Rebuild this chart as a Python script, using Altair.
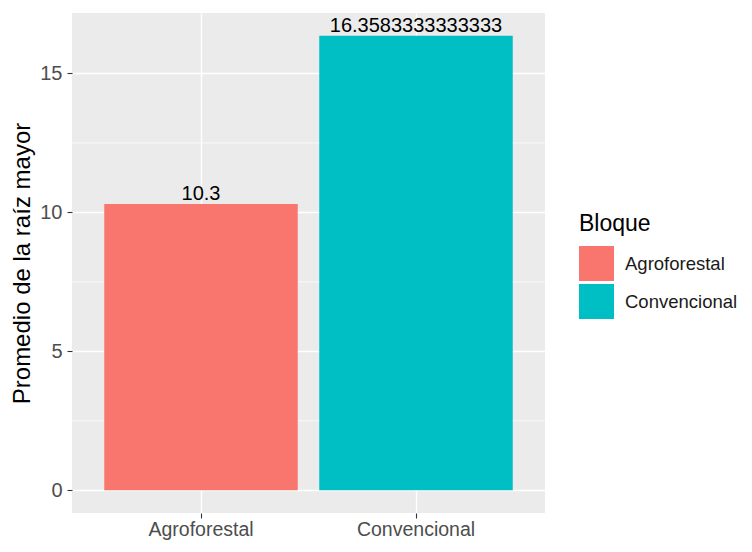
import altair as alt
import pandas as pd

categories = ["Agroforestal", "Convencional"]
values = [10.3, 16.3583333333333]
value_labels = ["10.3", "16.3583333333333"]
colors = ["#F8766D", "#00BFC4"]
y_ticks = [0, 5, 10, 15]
y_minor = [2.5, 7.5, 12.5]
y_domain = [-0.818, 17.176]

FONT = "Liberation Sans"
Y_TITLE = "Promedio de la raíz mayor"

df = pd.DataFrame({"Bloque": categories, "valor": values, "etiqueta": value_labels})
minor_df = pd.DataFrame({"m": y_minor})

yscale = alt.Scale(domain=y_domain, nice=False, zero=False)
xscale = alt.Scale(domain=categories, paddingInner=0.1, paddingOuter=0.15)

x_axis = alt.Axis(labelFontSize=19.5, labelFont=FONT, labelColor="#4D4D4D", labelAngle=0,
                  labelPadding=2, tickSize=5, tickColor="#333333", tickWidth=1.1,
                  domain=False, grid=True, gridColor="white", gridWidth=1.4)
y_axis = alt.Axis(values=y_ticks, labelFontSize=20, labelFont=FONT, labelColor="#4D4D4D",
                  labelPadding=5, tickSize=5, tickColor="#333333", tickWidth=1.1,
                  domain=False, grid=True, gridColor="white", gridWidth=1.4,
                  titleFontSize=24, titleFont=FONT, titleFontWeight="normal",
                  titleColor="black", titlePadding=5)

minor = alt.Chart(minor_df).mark_rule(color="white", strokeWidth=0.7).encode(
    y=alt.Y("m:Q", scale=yscale, title=Y_TITLE, axis=y_axis)
)

bars = alt.Chart(df).mark_bar().encode(
    x=alt.X("Bloque:N", scale=xscale, title=None, axis=x_axis),
    y=alt.Y("valor:Q", scale=yscale, title=Y_TITLE, axis=y_axis),
    color=alt.Color(
        "Bloque:N",
        scale=alt.Scale(domain=categories, range=colors),
        legend=alt.Legend(
            title="Bloque", orient="none", legendX=507, legendY=200,
            titleFontSize=23, titleFont=FONT, titleColor="black", titleFontWeight="normal",
            titlePadding=10, labelFontSize=18.5, labelFont=FONT, labelColor="#1A1A1A",
            symbolType="square", symbolSize=1225, symbolStrokeWidth=0, symbolOpacity=1,
            labelOffset=11, rowPadding=3,
        ),
    ),
)

text = alt.Chart(df).mark_text(
    baseline="alphabetic", dy=-4, fontSize=20, font=FONT, color="black"
).encode(
    x=alt.X("Bloque:N", scale=xscale, title=None, axis=x_axis),
    y=alt.Y("valor:Q", scale=yscale, title=Y_TITLE, axis=y_axis),
    text="etiqueta:N",
)

chart = alt.layer(minor, bars, text).properties(
    width=473, height=500,
    autosize=alt.AutoSizeParams(type="none"),
    padding={"left": 64, "top": 5, "right": 199, "bottom": 31},
).configure_view(fill="#EBEBEB", strokeWidth=0)

chart.save("out.html", embed_options={"renderer": "svg", "actions": False})
